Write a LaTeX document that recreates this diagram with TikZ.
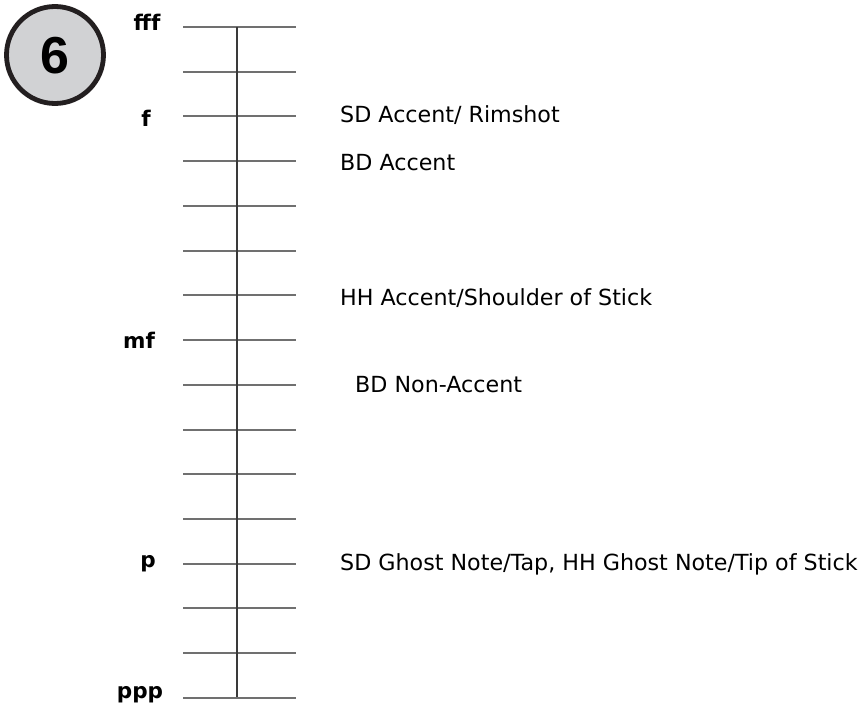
\documentclass[tikz,border=0pt]{standalone}
\usepackage{fontspec}
\newfontfamily\dvfont{DejaVu Sans}
\newfontfamily\lsfont{Liberation Sans}
\definecolor{tickgray}{HTML}{707070}
\definecolor{stemgray}{HTML}{3A3A3A}
\definecolor{discfill}{HTML}{D1D2D4}
\definecolor{discline}{HTML}{231F20}
\begin{document}
\begin{tikzpicture}[x=1pt,y=-1pt,
  tick/.style={draw=tickgray,line width=2pt},
  stem/.style={draw=stemgray,line width=2.2pt},
  dyn/.style={inner sep=0pt,anchor=base,font=\dvfont\bfseries\fontsize{21.5}{26}\selectfont},
  desc/.style={inner sep=0pt,anchor=base west,font=\dvfont\fontsize{22.2}{26}\selectfont}]
\useasboundingbox (0,0) rectangle (867,706);
% badge
\draw[fill=discfill,draw=discline,line width=4.8pt] (55,55) circle (48.5);
\node[inner sep=0pt,font=\lsfont\bfseries\fontsize{52}{60}\selectfont] (badge) at (55,56) {6};
% ticks
\foreach \i in {0,...,15}{
  \pgfmathsetmacro{\yy}{27+\i*44.73}
  \coordinate (tl\i) at (183,\yy);
  \coordinate (tr\i) at (296,\yy);
  \draw[tick] (tl\i) -- (tr\i);
}
\coordinate (stemtop) at (237,27);
\coordinate (stembot) at (237,697);
\draw[stem] (stemtop) -- (stembot);
% dynamics
\node[dyn] (fff) at (147,31) {fff};
\node[dyn] (f) at (146,127) {f};
\node[dyn] (mf) at (139,348) {mf};
\node[dyn] (p) at (148,567) {p};
\node[dyn] (ppp) at (140,698) {ppp};
% descriptions
\node[desc] (sdacc) at (340,123) {SD Accent/ Rimshot};
\node[desc] (bdacc) at (340,170) {BD Accent};
\node[desc] (hhacc) at (340,305) {HH Accent/Shoulder of Stick};
\node[desc] (bdnon) at (355,392) {BD Non-Accent};
\node[desc] (ghost) at (340,570) {SD Ghost Note/Tap, HH Ghost Note/Tip of Stick};
\end{tikzpicture}
\end{document}
